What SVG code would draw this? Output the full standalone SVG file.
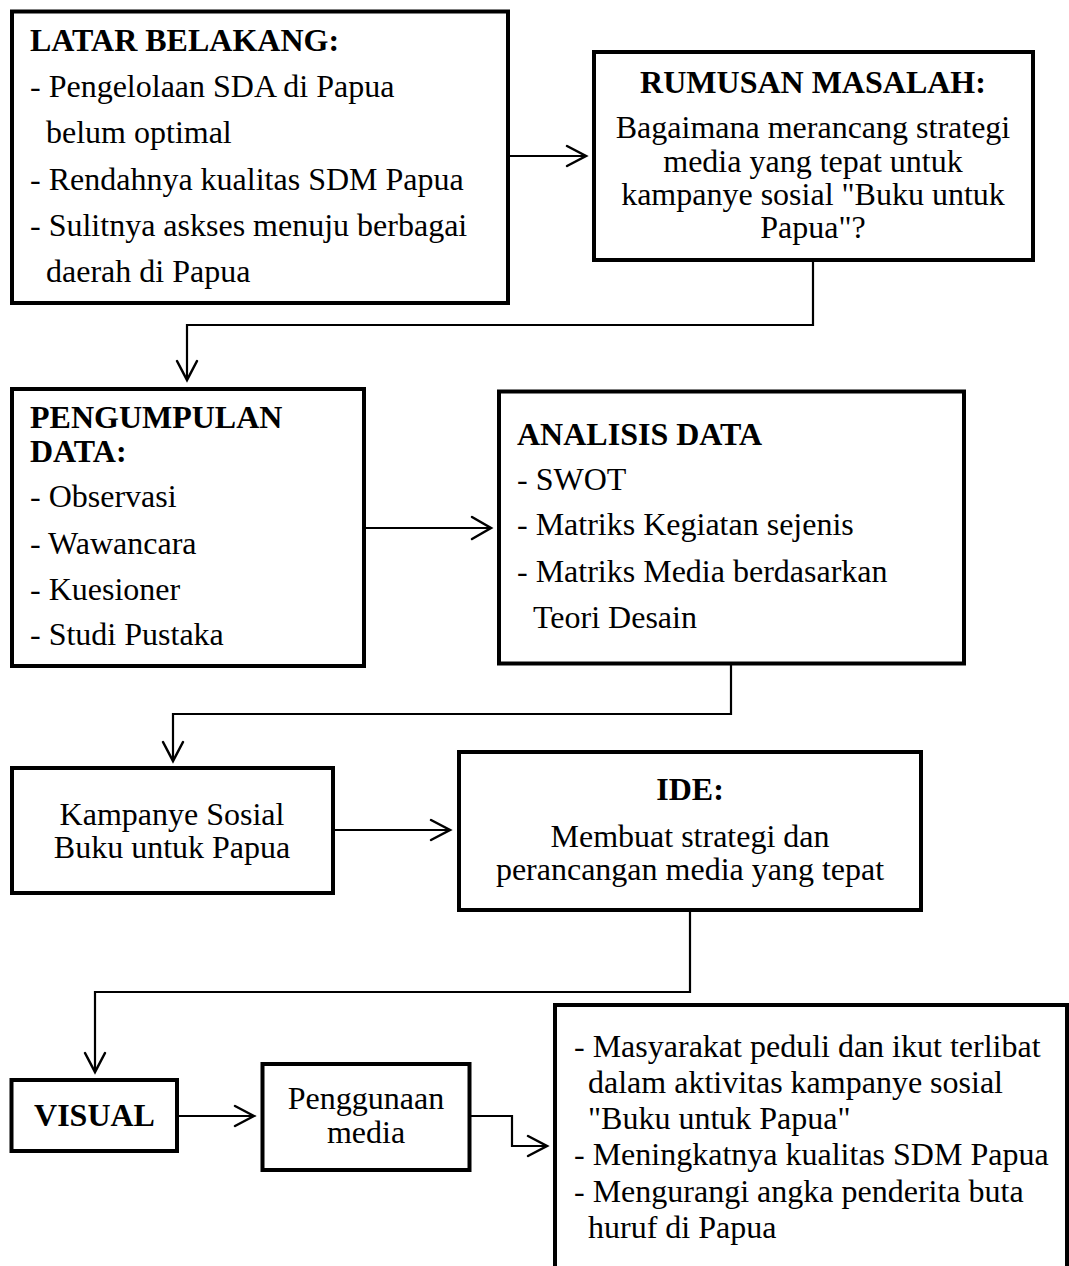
<svg xmlns="http://www.w3.org/2000/svg" width="1069" height="1266" viewBox="0 0 1069 1266">
<style>
  .box { fill: #fff; stroke: #000; stroke-width: 4; }
  .t { font-family: "Liberation Serif", "Times New Roman", serif; font-size: 32px; fill: #000; }
  .b { font-weight: bold; }
  .c { text-anchor: middle; }
  .line { fill: none; stroke: #000; stroke-width: 2.2; }
  .head { fill: none; stroke: #000; stroke-width: 2.5; stroke-linecap: round; stroke-linejoin: miter; }
</style>
<rect width="1069" height="1266" fill="#fff"/>

<g id="connectors">
  <path class="line" d="M510,156 H584"/>
  <path class="head" d="M567,146 L586,156 L567,166"/>

  <path class="line" d="M813,260 V325 H187 V379"/>
  <path class="head" d="M177,361 L187,380 L197,361"/>

  <path class="line" d="M364,528 H490"/>
  <path class="head" d="M472,517 L491,528 L472,539"/>

  <path class="line" d="M731,664 V714 H173 V760"/>
  <path class="head" d="M163,742 L173,761 L183,742"/>

  <path class="line" d="M333,830 H449"/>
  <path class="head" d="M431,820 L450,830 L431,840"/>

  <path class="line" d="M690,910 V992 H95 V1071"/>
  <path class="head" d="M85,1053 L95,1072 L105,1053"/>

  <path class="line" d="M177,1116 H253"/>
  <path class="head" d="M235,1106 L254,1116 L235,1126"/>

  <path class="line" d="M470,1116 H512 V1146 H546"/>
  <path class="head" d="M528,1136 L547,1146 L528,1156"/>
</g>

<g id="latar-belakang">
  <rect class="box" x="12" y="11.5" width="496" height="291.5"/>
  <text class="t b" x="30" y="51">LATAR BELAKANG:</text>
  <text class="t" x="30" y="97">- Pengelolaan SDA di Papua</text>
  <text class="t" x="46" y="143">belum optimal</text>
  <text class="t" x="30" y="190">- Rendahnya kualitas SDM Papua</text>
  <text class="t" x="30" y="236">- Sulitnya askses menuju berbagai</text>
  <text class="t" x="46" y="282">daerah di Papua</text>
</g>

<g id="rumusan-masalah">
  <rect class="box" x="594" y="52" width="439" height="208"/>
  <text class="t b c" x="813" y="93">RUMUSAN MASALAH:</text>
  <text class="t c" x="813" y="138">Bagaimana merancang strategi</text>
  <text class="t c" x="813" y="172">media yang tepat untuk</text>
  <text class="t c" x="813" y="205">kampanye sosial "Buku untuk</text>
  <text class="t c" x="813" y="238">Papua"?</text>
</g>

<g id="pengumpulan-data">
  <rect class="box" x="12" y="389" width="352" height="277"/>
  <text class="t b" x="30" y="428">PENGUMPULAN</text>
  <text class="t b" x="30" y="462">DATA:</text>
  <text class="t" x="30" y="507">- Observasi</text>
  <text class="t" x="30" y="554">- Wawancara</text>
  <text class="t" x="30" y="600">- Kuesioner</text>
  <text class="t" x="30" y="645">- Studi Pustaka</text>
</g>

<g id="analisis-data">
  <rect class="box" x="499" y="391.5" width="465" height="272"/>
  <text class="t b" x="517" y="445">ANALISIS DATA</text>
  <text class="t" x="517" y="490">- SWOT</text>
  <text class="t" x="517" y="535">- Matriks Kegiatan sejenis</text>
  <text class="t" x="517" y="582">- Matriks Media berdasarkan</text>
  <text class="t" x="533" y="628">Teori Desain</text>
</g>

<g id="kampanye-sosial">
  <rect class="box" x="12" y="768" width="321" height="125"/>
  <text class="t c" x="172" y="825">Kampanye Sosial</text>
  <text class="t c" x="172" y="858">Buku untuk Papua</text>
</g>

<g id="ide">
  <rect class="box" x="459" y="752" width="462" height="158"/>
  <text class="t b c" x="690" y="800">IDE:</text>
  <text class="t c" x="690" y="847">Membuat strategi dan</text>
  <text class="t c" x="690" y="880">perancangan media yang tepat</text>
</g>

<g id="visual">
  <rect class="box" x="11.5" y="1080" width="165.5" height="71"/>
  <text class="t b c" x="94.5" y="1126">VISUAL</text>
</g>

<g id="penggunaan-media">
  <rect class="box" x="262.5" y="1064" width="207" height="106"/>
  <text class="t c" x="366" y="1109">Penggunaan</text>
  <text class="t c" x="366" y="1143">media</text>
</g>

<g id="hasil">
  <rect class="box" x="555" y="1005" width="512" height="275"/>
  <text class="t" x="574" y="1057">- Masyarakat peduli dan ikut terlibat</text>
  <text class="t" x="588" y="1093">dalam aktivitas kampanye sosial</text>
  <text class="t" x="588" y="1129">"Buku untuk Papua"</text>
  <text class="t" x="574" y="1165">- Meningkatnya kualitas SDM Papua</text>
  <text class="t" x="574" y="1202">- Mengurangi angka penderita buta</text>
  <text class="t" x="588" y="1238">huruf di Papua</text>
</g>
</svg>
